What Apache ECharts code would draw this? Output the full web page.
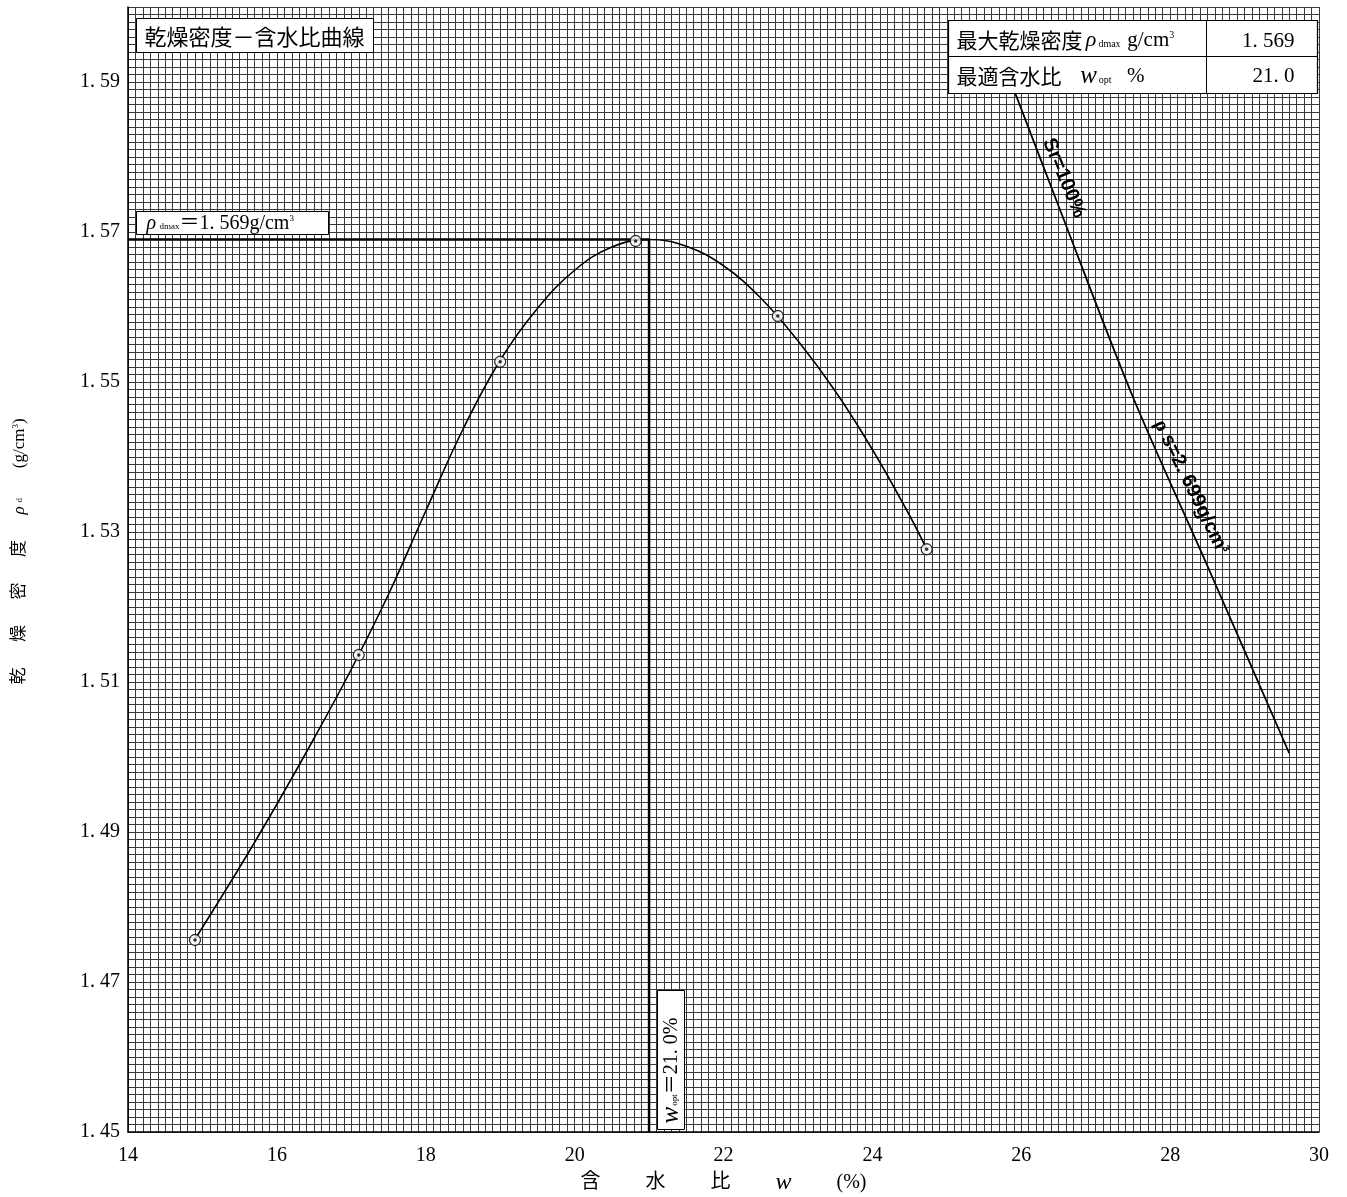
<!DOCTYPE html>
<html>
<head>
<meta charset="utf-8">
<script src="https://cdn.jsdelivr.net/npm/echarts@6/dist/echarts.min.js"></script>
<style>
  html, body { margin: 0; padding: 0; background: #fff; }
  #main { width: 1347px; height: 1197px; }
</style>
</head>
<body>
<div id="main"></div>
<script>
// 試験結果 (含水比 %, 乾燥密度 g/cm3)
var testW   = [14.9, 17.1, 19.0, 20.82, 22.73, 24.73];
var testRho = [1.4756, 1.5136, 1.5527, 1.5688, 1.5588, 1.5277];

// 締固め曲線
var curveW   = [14.9, 15.5, 16.0, 16.5, 17.0, 17.5, 18.0, 18.5, 19.0, 19.5, 20.0, 20.5, 21.0, 21.5, 22.0, 22.5, 23.0, 23.5, 24.0, 24.5, 24.73];
var curveRho = [1.4757, 1.4853, 1.4937, 1.5025, 1.5117, 1.5217, 1.5328, 1.5437, 1.5529, 1.5598, 1.5649, 1.5680, 1.5690, 1.5681, 1.5655, 1.5612, 1.5555, 1.5488, 1.5410, 1.5322, 1.5277];

// ゼロ空気間隙曲線 Sr=100%
var satW   = [25.9, 26.5, 27.5, 28.5, 29.6];
var satRho = [1.589, 1.5735, 1.548, 1.5255, 1.5005];

// 最大乾燥密度・最適含水比
var rhoMax = 1.569;
var wOpt = 21.0;

var xTicks = [14, 16, 18, 20, 22, 24, 26, 28, 30];
var yTicks = ['1. 45', '1. 47', '1. 49', '1. 51', '1. 53', '1. 55', '1. 57', '1. 59'];

function pairs(xs, ys) {
    return xs.map(function (x, i) { return [x, ys[i]]; });
}

var SERIF = "'Liberation Serif', 'DejaVu Serif', 'Noto Sans CJK JP', serif";
var SANS = "'Liberation Sans', Arial, sans-serif";
var gridColor = '#3a3a3a';
var Z = 100;

var chartDom = document.getElementById('main');
var myChart = echarts.init(chartDom);

var option = {
    backgroundColor: '#fff',
    animation: false,
    grid: { left: 128, right: 28, top: 7, bottom: 65, containLabel: false, outerBoundsMode: 'none' },
    xAxis: {
        type: 'value',
        min: xTicks[0],
        max: xTicks[xTicks.length - 1],
        interval: 2,
        axisLine: { show: true, onZero: false, lineStyle: { color: '#000', width: 1.5 } },
        axisTick: { show: false },
        axisLabel: { color: '#000', fontFamily: SERIF, fontSize: 20, margin: 14 },
        splitLine: { show: true, lineStyle: { color: gridColor, width: 1 } },
        minorTick: { show: false, splitNumber: 20 },
        minorSplitLine: { show: true, lineStyle: { color: gridColor, width: 1 } },
        name: '含　　 水　　 比　　 {w|w}　　 (%)',
        nameLocation: 'middle',
        nameGap: 39,
        nameTextStyle: {
            color: '#000', fontFamily: SERIF, fontSize: 20,
            rich: { w: { fontFamily: SERIF, fontStyle: 'italic', fontSize: 24, color: '#000' } }
        }
    },
    yAxis: {
        type: 'value',
        min: 1.45,
        max: 1.60,
        interval: 0.02,
        axisLine: { show: true, onZero: false, lineStyle: { color: '#000', width: 1.5 } },
        axisTick: { show: false },
        axisLabel: {
            color: '#000', fontFamily: SERIF, fontSize: 20, margin: 8,
            formatter: function (v) {
                var i = Math.round((v - 1.45) / 0.02);
                return yTicks[i] !== undefined ? yTicks[i] : '';
            }
        },
        splitLine: { show: true, lineStyle: { color: gridColor, width: 1 } },
        minorTick: { show: false, splitNumber: 20 },
        minorSplitLine: { show: true, lineStyle: { color: gridColor, width: 1 } },
        name: '乾　  燥　  密　  度　  {r|ρ}{s|d}　   (g/cm{t|3})',
        nameLocation: 'middle',
        nameGap: 100,
        nameRotate: 90,
        nameTextStyle: {
            color: '#000', fontFamily: SERIF, fontSize: 17,
            padding: [0, 0, 0, 36],
            rich: {
                r: { fontFamily: SERIF, fontStyle: 'italic', fontSize: 17, color: '#000' },
                s: { fontFamily: SERIF, fontSize: 9, color: '#000', padding: [0, 0, 0, 4] },
                t: { fontFamily: SERIF, fontSize: 9, color: '#000', verticalAlign: 'top' }
            }
        }
    },
    series: [
        {
            name: 'curve',
            type: 'line',
            data: pairs(curveW, curveRho),
            smooth: 0.4,
            showSymbol: false,
            lineStyle: { color: '#000', width: 1.6 },
            z: 5
        },
        {
            name: 'opt',
            type: 'line',
            data: [[xTicks[0], rhoMax], [wOpt, rhoMax], [wOpt, 1.45]],
            showSymbol: false,
            lineStyle: { color: '#000', width: 2.5 },
            z: 4
        },
        {
            name: 'Sr100',
            type: 'line',
            data: pairs(satW, satRho),
            smooth: 0.3,
            showSymbol: false,
            lineStyle: { color: '#000', width: 1.8 },
            z: 4
        },
        {
            name: 'points',
            type: 'scatter',
            data: pairs(testW, testRho),
            symbol: 'circle',
            symbolSize: 11,
            itemStyle: { color: '#fff', borderColor: '#000', borderWidth: 1.3 },
            z: 6
        },
        {
            name: 'pointsDot',
            type: 'scatter',
            data: pairs(testW, testRho),
            symbol: 'circle',
            symbolSize: 3.5,
            itemStyle: { color: '#000' },
            z: 7
        }
    ],
    graphic: [
        // タイトル枠
        {
            type: 'group', left: 136, top: 18, z: Z,
            children: [
                { type: 'rect', z: Z, shape: { x: 0, y: 0, width: 237, height: 34 },
                  style: { fill: '#fff', stroke: '#000', lineWidth: 1 } },
                { type: 'text', z: Z + 1, x: 8, y: 18,
                  style: { text: '乾燥密度－含水比曲線', font: "22px 'Noto Sans CJK JP'", fill: '#000', textVerticalAlign: 'middle' } }
            ]
        },
        // 結果表
        {
            type: 'group', left: 946, top: 18, z: Z,
            children: [
                { type: 'rect', z: Z, shape: { x: 0, y: 0, width: 369, height: 73 },
                  style: { fill: '#fff', stroke: '#000', lineWidth: 1.2 } },
                { type: 'line', z: Z + 1, shape: { x1: 0, y1: 36, x2: 369, y2: 36 }, style: { stroke: '#000', lineWidth: 1 } },
                { type: 'line', z: Z + 1, shape: { x1: 258, y1: 0, x2: 258, y2: 73 }, style: { stroke: '#000', lineWidth: 1 } },
                { type: 'text', z: Z + 1, x: 8, y: 20,
                  style: {
                      text: '{j|最大乾燥密度} {r|ρ}{s|dmax}  {u|g/cm}{t|3}',
                      rich: {
                          j: { font: "21px 'Noto Sans CJK JP'", fill: '#000' },
                          r: { font: "italic 22px " + SERIF, fill: '#000' },
                          s: { font: "10px " + SERIF, fill: '#000', padding: [8, 0, 0, 2] },
                          u: { font: "21px " + SERIF, fill: '#000' },
                          t: { font: "10px " + SERIF, fill: '#000', padding: [0, 0, 10, 0] }
                      },
                      textVerticalAlign: 'middle'
                  } },
                { type: 'text', z: Z + 1, x: 8, y: 56,
                  style: {
                      text: '{j|最適含水比}　  {r|w}{s|opt}　 {u|%}',
                      rich: {
                          j: { font: "21px 'Noto Sans CJK JP'", fill: '#000' },
                          r: { font: "italic 25px " + SERIF, fill: '#000' },
                          s: { font: "10px " + SERIF, fill: '#000', padding: [8, 0, 0, 2] },
                          u: { font: "21px " + SERIF, fill: '#000' }
                      },
                      textVerticalAlign: 'middle'
                  } },
                { type: 'text', z: Z + 1, x: 346, y: 21,
                  style: { text: '1. 569', font: "21px " + SERIF, fill: '#000', textAlign: 'right', textVerticalAlign: 'middle' } },
                { type: 'text', z: Z + 1, x: 346, y: 56,
                  style: { text: '21. 0', font: "21px " + SERIF, fill: '#000', textAlign: 'right', textVerticalAlign: 'middle' } }
            ]
        },
        // ρdmax ラベル
        {
            type: 'group', left: 136, top: 211, z: Z,
            children: [
                { type: 'rect', z: Z, shape: { x: 0, y: 0, width: 192, height: 23 },
                  style: { fill: '#fff', stroke: '#000', lineWidth: 1 } },
                { type: 'text', z: Z + 1, x: 10, y: 12,
                  style: {
                      text: '{r|ρ} {s|dmax}{u|＝1. 569g/cm}{t|3}',
                      rich: {
                          r: { font: "italic 20px " + SERIF, fill: '#000' },
                          s: { font: "9px " + SERIF, fill: '#000', padding: [7, 0, 0, 0] },
                          u: { font: "20px " + SERIF, fill: '#000' },
                          t: { font: "9px " + SERIF, fill: '#000', padding: [0, 0, 9, 0] }
                      },
                      textVerticalAlign: 'middle'
                  } }
            ]
        },
        // wopt ラベル (縦書き)
        {
            type: 'group', left: 657, top: 990, z: Z,
            children: [
                { type: 'rect', z: Z, shape: { x: 0, y: 0, width: 27, height: 139 },
                  style: { fill: '#fff', stroke: '#000', lineWidth: 1 } },
                { type: 'text', z: Z + 1, x: 14, y: 133, rotation: Math.PI / 2,
                  style: {
                      text: '{r|w}{s|opt}{u|＝21. 0%}',
                      rich: {
                          r: { font: "italic 25px " + SERIF, fill: '#000' },
                          s: { font: "9px " + SERIF, fill: '#000', padding: [7, 0, 0, 1] },
                          u: { font: "20px " + SERIF, fill: '#000' }
                      },
                      textVerticalAlign: 'middle'
                  } }
            ]
        },
        // Sr=100%
        {
            type: 'text', x: 1064, y: 178, rotation: -67.5 * Math.PI / 180, z: Z,
            style: { text: 'Sr=100%', font: "bold 20px " + SANS, fill: '#000',
                     textAlign: 'center', textVerticalAlign: 'middle' }
        },
        // ρs=2.699g/cm3
        {
            type: 'text', x: 1191, y: 487, rotation: -64 * Math.PI / 180, z: Z,
            style: {
                text: '{r|ρ}{u| s=2. 699g/cm}{t|3}',
                rich: {
                    r: { font: "bold 20px " + SERIF, fill: '#000' },
                    u: { font: "bold 20px " + SANS, fill: '#000' },
                    t: { font: "bold 10px " + SANS, fill: '#000', padding: [0, 0, 9, 0] }
                },
                textAlign: 'center', textVerticalAlign: 'middle'
            }
        }
    ]
};

myChart.setOption(option);
</script>
</body>
</html>
